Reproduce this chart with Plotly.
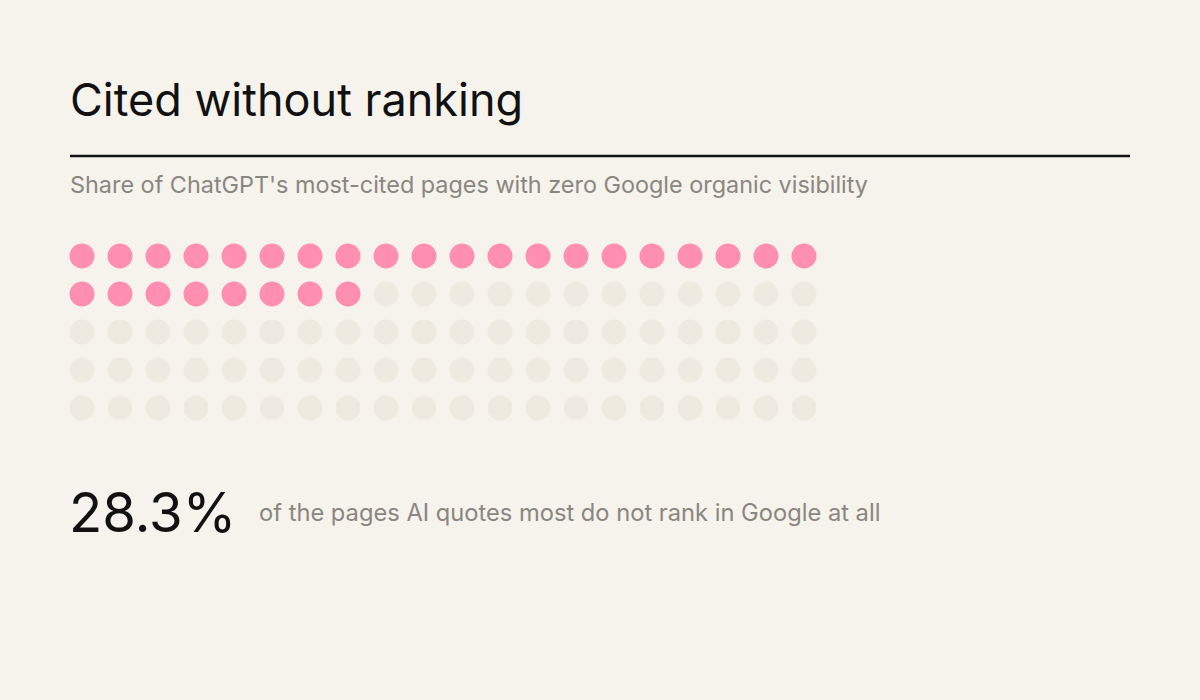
import plotly.graph_objects as go

# Data
share_pct = 28.3
total_dots = 100
n_cols = 20
n_rows = 5
title = "Cited without ranking"
subtitle = "Share of ChatGPT's most-cited pages with zero Google organic visibility"
caption = "of the pages AI quotes most do not rank in Google at all"

filled = round(share_pct)  # 28 of 100 dots

cols = [i % n_cols for i in range(total_dots)]
rows = [i // n_cols for i in range(total_dots)]
colors = ["#ff8fb0" if i < filled else "#eeeae0" for i in range(total_dots)]

W, H = 1200, 700
bg = "#f6f3ec"

fig = go.Figure()
fig.add_trace(go.Scatter(
    x=cols, y=rows, mode="markers",
    marker=dict(size=25, color=colors, line=dict(width=0)),
    hoverinfo="skip", showlegend=False,
))

cell = 38
x0 = 82 - cell / 2
y0 = 256 - cell / 2
fig.update_layout(
    width=W, height=H,
    margin=dict(l=0, r=0, t=0, b=0),
    paper_bgcolor=bg, plot_bgcolor=bg,
    xaxis=dict(range=[-0.5, n_cols - 0.5], domain=[x0 / W, (x0 + n_cols * cell) / W],
               visible=False, fixedrange=True),
    yaxis=dict(range=[n_rows - 0.5, -0.5], domain=[1 - (y0 + n_rows * cell) / H, 1 - y0 / H],
               visible=False, fixedrange=True),
    font=dict(family="Inter, Roboto, sans-serif"),
)

def px(x, y):
    return x / W, 1 - y / H

ann = []
tx, ty = px(68, 100)
ann.append(dict(x=tx, y=ty, xref="paper", yref="paper", xanchor="left", yanchor="middle",
                text=title, showarrow=False,
                font=dict(size=45, color="#111111", family="Inter, sans-serif")))
sx, sy = px(68, 184)
ann.append(dict(x=sx, y=sy, xref="paper", yref="paper", xanchor="left", yanchor="middle",
                text=subtitle, showarrow=False,
                font=dict(size=23.4, color="#8a8680", family="Inter, sans-serif")))
bx, by = px(67, 512)
ann.append(dict(x=bx, y=by, xref="paper", yref="paper", xanchor="left", yanchor="middle",
                text=f"{share_pct}%", showarrow=False,
                font=dict(size=54.5, color="#111111", family="Inter, sans-serif")))
cx, cy = px(257, 512)
ann.append(dict(x=cx, y=cy, xref="paper", yref="paper", xanchor="left", yanchor="middle",
                text=caption, showarrow=False,
                font=dict(size=23.7, color="#8a8680", family="Inter, sans-serif")))
fig.update_layout(annotations=ann)

fig.add_shape(type="line", xref="paper", yref="paper",
              x0=70 / W, x1=1130 / W, y0=1 - 156 / H, y1=1 - 156 / H,
              line=dict(color="#111111", width=2.5))

fig.write_html("out.html", config={"displayModeBar": False},
               post_script="document.body.style.margin='0';document.body.style.overflow='hidden';")
